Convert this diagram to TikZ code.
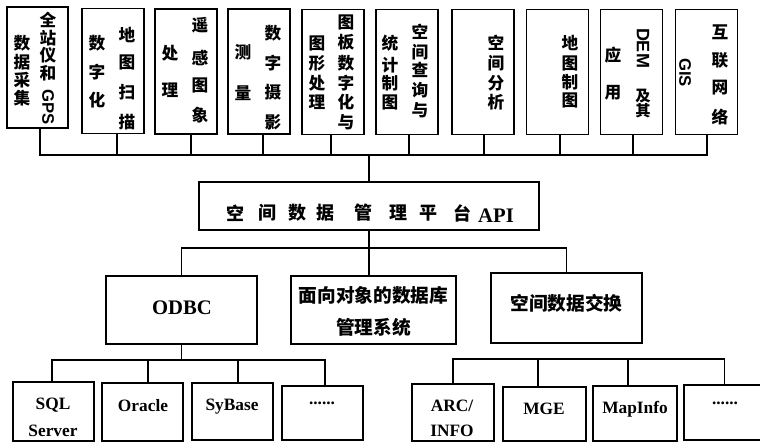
\documentclass[tikz,border=0pt]{standalone}
\usepackage{fontspec}
\setmainfont{Liberation Serif}
\newfontfamily\cjk{Noto Sans CJK SC}
\newfontfamily\lsans{Liberation Sans}
\newcommand\cjktop{\cjk\bfseries\fontsize{12.5}{12.5}\selectfont}
\newcommand\cjkmid{\cjk\bfseries\fontsize{13.5}{13.5}\selectfont}
\newcommand\latbot{\bfseries\fontsize{13}{13}\selectfont}
\newcommand\vcolumn[3]{\foreach \yy/\ch [count=\k] in {#2} {\node[tc] (#3\k) at (#1,\yy) {\ch};}}
\begin{document}
\begin{tikzpicture}[x=0.75pt,y=-0.75pt,
  box/.style={draw, line width=1.3pt, inner sep=0pt, rectangle},
  topbox/.style={box, minimum width=46.5pt, minimum height=93.75pt},
  wire/.style={line width=1.3pt},
  tc/.style={font=\cjktop, inner sep=0pt},
  rl/.style={font=\lsans\bfseries\fontsize{12.5}{12.5}\selectfont, inner sep=0pt, rotate=-90},
  mc/.style={font=\cjkmid, inner sep=0pt},
  lb/.style={font=\latbot, inner sep=0pt}]
\useasboundingbox (0,0) rectangle (760,443);
\clip (0,0) rectangle (760,443);

% ---------- top boxes ----------
\node[box, minimum width=45.75pt, minimum height=90.75pt] (b1) at (37.5,67.5) {};
\node[topbox] (b2) at (113,71) {};
\node[topbox] (b3) at (186,71.5) {};
\node[topbox] (b4) at (259,71.5) {};
\node[topbox] (b5) at (333,72) {};
\node[topbox] (b6) at (407,72) {};
\node[topbox] (b7) at (483,72) {};
\node[topbox] (b8) at (557.5,72) {};
\node[topbox] (b9) at (631.5,72) {};
\node[topbox] (b10) at (706.5,72) {};

% texts of top boxes
\vcolumn{22}{43/数,62/据,80/采,98/集}{t1l}
\vcolumn{48}{20/全,38/站,55/仪,73/和}{t1r}
\node[rl] (gps) at (48,107.5) {GPS};
\vcolumn{97}{43/数,72/字,100/化}{t2l}
\vcolumn{127}{35/地,62/图,92/扫,122/描}{t2r}
\vcolumn{170}{53/处,90/理}{t3l}
\vcolumn{200}{25/遥,58/感,85/图,115/象}{t3r}
\vcolumn{243}{52/测,93/量}{t4l}
\vcolumn{273}{33/数,63/字,92/摄,122/影}{t4r}
\vcolumn{317}{43/图,63/形,83/处,102/理}{t5l}
\vcolumn{346}{22/图,42/板,63/数,83/字,102/化,122/与}{t5r}
\vcolumn{390}{43/统,65/计,83/制,102/图}{t6l}
\vcolumn{420}{32/空,52/间,70/查,90/询,110/与}{t6r}
\vcolumn{496}{43/空,63/间,83/分,102/析}{t7}
\vcolumn{570}{43/地,63/图,82/制,100/图}{t8}
\vcolumn{613}{55/应,93/用}{t9l}
\node[rl, font=\lsans\bfseries\fontsize{13.5}{13.5}\selectfont] (dem) at (643,48) {DEM};
\node[tc, font=\cjk\bfseries\fontsize{11.5}{11.5}\selectfont] (t9a) at (643,96) {及};
\node[tc, font=\cjk\bfseries\fontsize{11.5}{11.5}\selectfont] (t9b) at (643,111) {其};
\node[rl] (gis) at (685,72.5) {GIS};
\vcolumn{720}{32/互,60/联,88/网,117/络}{t10r}

% ---------- API box ----------
\node[box, minimum width=255pt, minimum height=36pt] (api) at (369,206) {};
\foreach \xx/\ch [count=\k] in {235/空,267/间,297/数,325/据,363/管,398/理,428/平,462/台}
  {\node[mc] (apit\k) at (\xx,213) {\ch};}
\node[font=\bfseries\fontsize{15.5}{15.5}\selectfont, inner sep=0pt] (apil) at (496,216) {API};

% ---------- middle boxes ----------
\node[box, minimum width=113.25pt, minimum height=51pt] (odbc) at (181.5,310) {};
\node[box, minimum width=123.75pt, minimum height=51pt] (oodb) at (373.5,310) {};
\node[box, minimum width=113.25pt, minimum height=52.5pt] (exch) at (566.5,308) {};
\node[font=\bfseries\fontsize{15.5}{15.5}\selectfont, inner sep=0pt] (odbct) at (182,308) {ODBC};
\node[mc, font=\cjk\bfseries\fontsize{14}{14}\selectfont] (oodbt1) at (373.5,295) {面向对象的数据库};
\node[mc, font=\cjk\bfseries\fontsize{14}{14}\selectfont] (oodbt2) at (373.5,327) {管理系统};
\node[mc, font=\cjk\bfseries\fontsize{14}{14}\selectfont] (exct) at (566.5,303) {空间数据交换};

% ---------- bottom boxes ----------
\node[box, minimum width=60.75pt, minimum height=44.25pt] (sql) at (53.5,411.5) {};
\node[box, minimum width=60.75pt, minimum height=43.5pt] (oracle) at (142.5,412) {};
\node[box, minimum width=60.75pt, minimum height=42.75pt] (sybase) at (232.5,411.5) {};
\node[box, minimum width=60.75pt, minimum height=40.5pt] (dot1) at (322.5,413) {};
\node[box, minimum width=61.5pt, minimum height=42.75pt] (arc) at (453,412.5) {};
\node[box, minimum width=62.25pt, minimum height=40.5pt] (mge) at (544.5,414) {};
\node[box, minimum width=63pt, minimum height=41.25pt] (mapinfo) at (635,413.5) {};
\node[box, minimum width=60.75pt, minimum height=41.25pt] (dot2) at (724.5,412.5) {};

\node[lb] (sqlt1) at (53,405) {SQL};
\node[lb] (sqlt2) at (53,431) {Server};
\node[lb] (oraclet) at (143,406) {Oracle};
\node[lb] (sybaset) at (232,407) {SyBase};
\node[lb] (dot1t) at (322,403) {......};
\node[lb] (arct1) at (452,406) {ARC/};
\node[lb] (arct2) at (452,431) {INFO};
\node[lb] (mget) at (544,409) {MGE};
\node[lb] (mapinfot) at (635,409) {MapInfo};
\node[lb] (dot2t) at (725,403) {......};

% ---------- connectors ----------
\coordinate (tbus) at (0,155);
\draw[wire] ([xshift=1.9pt]b1.south) -- ([xshift=1.9pt]b1.south |- tbus) -- ([xshift=0.4pt]b10.south |- tbus) -- ([xshift=0.4pt]b10.south);
\foreach \b/\s in {b2/3,b3/3.75,b4/3,b5/-1.5,b6/1.5,b7/0.75,b8/1.9,b9/1.1}
  {\draw[wire] ([xshift=\s pt]\b.south) -- ([xshift=\s pt]\b.south |- tbus);}
\draw[wire] (api.north) -- (api.north |- tbus);

\coordinate (mbus) at (0,248);
\draw[wire] (api.south) -- (api.south |- oodb.north);
\draw[wire] (odbc.north) -- (odbc.north |- mbus) -- (exch.north |- mbus) -- (exch.north);

\coordinate (lbus) at (0,360);
\draw[wire] (odbc.south) -- (odbc.south |- lbus);
\draw[wire] ([xshift=-1.1pt]sql.north) -- ([xshift=-1.1pt]sql.north |- lbus) -- ([xshift=1.9pt]dot1.north |- lbus) -- ([xshift=1.9pt]dot1.north);
\draw[wire] ([xshift=4.1pt]oracle.north) -- ([xshift=4.1pt]oracle.north |- lbus);
\draw[wire] ([xshift=4.1pt]sybase.north) -- ([xshift=4.1pt]sybase.north |- lbus);

\coordinate (rbus) at (0,359);
\draw[wire] (arc.north) -- (arc.north |- rbus) -- (dot2.north |- rbus) -- (dot2.north);
\draw[wire] ([xshift=-4.9pt]mge.north) -- ([xshift=-4.9pt]mge.north |- rbus);
\draw[wire] ([xshift=-5.25pt]mapinfo.north) -- ([xshift=-5.25pt]mapinfo.north |- rbus);
\end{tikzpicture}
\end{document}
